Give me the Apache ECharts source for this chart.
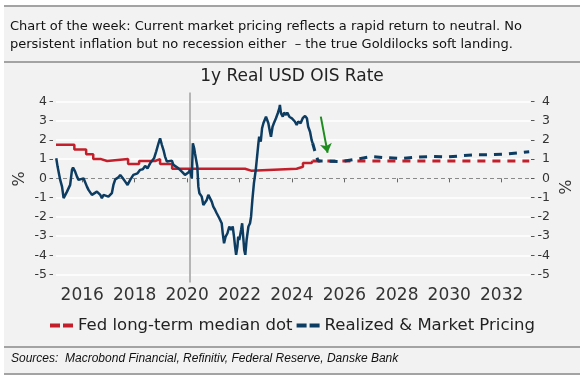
<!DOCTYPE html>
<html>
<head>
<meta charset="utf-8">
<script src="https://cdn.jsdelivr.net/npm/echarts@6/dist/echarts.min.js"></script>
<style>
html,body{margin:0;padding:0;background:#fff;width:584px;height:387px;overflow:hidden;}
#box{position:absolute;left:4px;top:5px;width:576px;height:370px;background:#f2f2f2;}
.hl{position:absolute;left:4px;width:576px;height:2px;background:#a3a3a3;}
#chart{position:absolute;left:0;top:0;width:584px;height:387px;}
</style>
</head>
<body>
<div id="box"></div>
<div class="hl" style="top:5px"></div>
<div class="hl" style="top:61px"></div>
<div class="hl" style="top:346px"></div>
<div class="hl" style="top:373px"></div>
<div id="chart"></div>
<script>
// ---- data (decimal year, % real rate) ----
const headline = "Chart of the week: Current market pricing reflects a rapid return to neutral. No\npersistent inflation but no recession either  \u2013 the true Goldilocks soft landing.";
const chartTitle = "1y Real USD OIS Rate";
const sourceText = "Sources:  Macrobond Financial, Refinitiv, Federal Reserve, Danske Bank";
const fedName = "Fed long-term median dot";
const mktName = "Realized & Market Pricing";

const xTicks = [2016, 2018, 2020, 2022, 2024, 2026, 2028, 2030, 2032];
const yTicks = [-5, -4, -3, -2, -1, 0, 1, 2, 3, 4];
const gridTicks = [-5, -4, -3, -2, -1, 1, 2, 3, 4];

const fedSolidYears = [2015.0, 2015.70, 2016.15, 2016.42, 2016.72, 2016.95, 2017.75, 2018.17, 2018.78, 2018.97, 2019.43, 2022.21, 2022.44, 2024.18, 2024.42, 2024.75, 2024.78];
const fedSolidValues = [1.75, 1.5, 1.25, 1.0, 0.9, 1.0, 0.75, 0.9, 1.0, 0.75, 0.5, 0.4, 0.5, 0.6, 0.8, 0.9, 0.9];
const fedDotYears = [2024.78, 2033.05];
const fedDotValues = [0.9, 0.9];

const realized = [
[2015.01,1.04],[2015.06,0.61],[2015.16,-0.08],[2015.23,-0.43],[2015.29,-1.03],[2015.35,-0.95],[2015.42,-0.69],[2015.48,-0.6],[2015.54,-0.34],[2015.61,0.44],
[2015.65,0.56],[2015.73,0.35],[2015.80,0.09],[2015.86,-0.08],[2015.92,-0.05],[2016.05,0.0],[2016.11,-0.08],[2016.18,-0.43],[2016.24,-0.6],[2016.30,-0.69],
[2016.37,-0.86],[2016.43,-0.95],[2016.56,-0.69],[2016.62,-0.6],[2016.69,-0.86],[2016.75,-1.03],[2016.81,-0.86],[2016.88,-0.95],[2017.00,-0.95],[2017.13,-0.77],
[2017.19,-0.34],[2017.26,-0.05],[2017.38,0.05],[2017.45,0.18],[2017.55,0.0],[2017.64,-0.17],[2017.73,-0.34],[2017.83,-0.08],[2017.95,0.18],[2018.02,0.13],
[2018.11,0.26],[2018.21,0.44],[2018.31,0.47],[2018.40,0.64],[2018.49,0.52],[2018.59,0.78],[2018.66,0.7],[2018.74,1.04],[2018.82,1.39],[2018.91,1.82],
[2018.97,2.08],[2019.04,1.73],[2019.10,1.47],[2019.16,1.13],[2019.23,0.87],[2019.29,0.8],[2019.42,0.92],[2019.48,0.7],[2019.54,0.78],[2019.67,0.52],
[2019.80,0.35],[2019.92,0.18],[2019.99,0.09],[2020.05,0.3],[2020.11,0.44],[2020.18,0.0],[2020.22,1.82],[2020.27,1.56],[2020.30,1.3],[2020.34,1.4],
[2020.39,0.61],[2020.43,-0.43],[2020.47,-0.77],[2020.56,-0.95],[2020.62,-1.38],[2020.69,-1.29],[2020.75,-1.12],[2020.81,-0.86],[2020.88,-0.95],[2020.94,-1.21],
[2021.00,-1.47],[2021.07,-1.64],[2021.13,-1.81],[2021.23,-2.07],[2021.32,-2.33],[2021.36,-2.85],[2021.41,-3.37],[2021.47,-3.02],[2021.54,-2.85],[2021.61,-2.5],
[2021.68,-2.68],[2021.74,-2.5],[2021.79,-3.02],[2021.83,-3.54],[2021.87,-3.97],[2021.92,-3.54],[2021.95,-3.02],[2021.99,-3.2],[2022.06,-2.68],[2022.10,-2.33],
[2022.14,-3.02],[2022.18,-3.72],[2022.22,-3.97],[2022.27,-3.2],[2022.34,-2.5],[2022.40,-2.33],[2022.44,-1.99],[2022.49,-1.12],[2022.55,-0.25],[2022.62,0.44],
[2022.67,1.13],[2022.72,1.82],[2022.75,2.16],[2022.81,1.9],[2022.86,2.6],[2022.91,2.86],[2022.97,2.77],[2023.01,3.2],[2023.06,3.12],[2023.10,2.86],
[2023.16,2.42],[2023.20,2.16],[2023.26,2.68],[2023.31,2.86],[2023.39,3.12],[2023.46,3.38],[2023.52,3.64],[2023.54,3.81],[2023.58,3.38],[2023.65,3.2],
[2023.70,3.41],[2023.77,3.29],[2023.82,3.41],[2023.90,3.2],[2023.99,3.12],[2024.05,3.03],[2024.11,2.95],[2024.18,2.77],[2024.24,2.95],[2024.33,2.86],
[2024.41,3.12],[2024.50,3.24],[2024.57,3.12],[2024.62,2.68],[2024.69,2.42],[2024.75,1.99],[2024.79,1.82]
];

const pricingYears = [2024.79, 2024.88, 2024.94, 2025.0, 2025.26, 2025.87, 2026.48, 2027.04, 2027.6, 2028.2, 2028.8, 2029.36, 2029.94, 2030.53, 2031.1, 2031.68, 2032.27, 2033.05];
const pricingValues = [1.82, 1.39, 1.13, 0.9, 0.9, 0.87, 1.0, 1.13, 1.07, 1.04, 1.11, 1.13, 1.11, 1.18, 1.23, 1.23, 1.27, 1.38];

const covidLine = 2020.11;
const arrowFrom = [2025.10, 3.2];
const arrowTo = [2025.36, 1.33];

// ---- build ----
const zip = (a, b) => a.map((x, i) => [x, b[i]]);
const RED = '#c21f2a', BLUE = '#0c3c61', GREEN = '#1e8c1e';
const FONT = 'DejaVu Sans';
const DASH_ICON = 'path://M0,0H10V4H0Z M13,0H23V4H13Z';

const chart = echarts.init(document.getElementById('chart'), null, {renderer: 'canvas'});
const yBase = {type: 'value', min: -5.4, max: 4.45, axisLine: {show: false}};
chart.setOption({
  animation: false,
  textStyle: {fontFamily: FONT},
  title: [
    {text: headline, left: 10, top: 18, padding: 0,
     textStyle: {fontFamily: FONT, fontSize: 13, lineHeight: 18, fontWeight: 'normal', color: '#111'}},
    {text: chartTitle, left: 'center', top: 67, padding: 0,
     textStyle: {fontFamily: FONT, fontSize: 17, lineHeight: 20, fontWeight: 'normal', color: '#222'}},
    {text: sourceText, left: 11, top: 352, padding: 0,
     textStyle: {fontFamily: 'Liberation Sans', fontSize: 12, fontStyle: 'italic', lineHeight: 14, fontWeight: 'normal', color: '#111'}}
  ],
  legend: {
    data: [{name: fedName, icon: DASH_ICON}, {name: mktName, icon: DASH_ICON}],
    left: 50, top: 317, padding: 0,
    itemWidth: 23, itemHeight: 4, itemGap: 4,
    textStyle: {fontFamily: FONT, fontSize: 16.5, color: '#222'}
  },
  grid: {left: 56, right: 54, top: 92.6, bottom: 104.6, containLabel: false},
  xAxis: {
    type: 'value', min: 2015, max: 2033.08,
    axisLine: {show: false},
    axisTick: {show: true, length: 4, customValues: xTicks, lineStyle: {color: '#666', width: 1}},
    axisLabel: {customValues: xTicks, margin: 5, fontSize: 17, color: '#333', fontFamily: FONT,
      formatter: v => String(Math.round(v))},
    splitLine: {show: false}
  },
  yAxis: [
    Object.assign({}, yBase, {position: 'left', offset: 3,
      axisTick: {show: true, length: 3.5, customValues: yTicks, lineStyle: {color: '#555'}},
      axisLabel: {customValues: yTicks, margin: 6, fontSize: 12.5, color: '#333', fontFamily: FONT},
      splitLine: {show: false}}),
    Object.assign({}, yBase, {position: 'right', offset: 1,
      axisTick: {show: true, length: 3.5, customValues: yTicks, lineStyle: {color: '#555'}},
      axisLabel: {customValues: yTicks, margin: 6, fontSize: 12.5, color: '#333', fontFamily: FONT,
        formatter: v => '{a|' + v + '}',
        rich: {a: {width: 13, align: 'right', fontSize: 12.5, color: '#333', fontFamily: FONT}}},
      splitLine: {show: false}}),
    Object.assign({}, yBase, {position: 'left',
      axisTick: {show: false, customValues: gridTicks},
      axisLabel: {show: false, customValues: gridTicks},
      splitLine: {show: true, lineStyle: {color: '#ffffff', width: 1.5}}})
  ],
  graphic: [
    {type: 'text', x: 20, y: 179, rotation: Math.PI / 2,
     style: {text: '%', fontFamily: FONT, fontSize: 16, fill: '#333', align: 'center', verticalAlign: 'middle'}},
    {type: 'text', x: 563, y: 187, rotation: -Math.PI / 2,
     style: {text: '%', fontFamily: FONT, fontSize: 16, fill: '#333', align: 'center', verticalAlign: 'middle'}}
  ],
  series: [
    {name: 'fedSolid', type: 'line', step: 'end', data: zip(fedSolidYears, fedSolidValues),
     showSymbol: false, symbol: 'none', lineStyle: {color: RED, width: 2.5}, itemStyle: {color: RED},
     z: 3,
     markLine: {silent: true, symbol: 'none', label: {show: false}, z: 1,
       lineStyle: {color: '#8a8a8a', width: 1, type: [4, 3]},
       data: [{yAxis: 0}]}},
    {name: fedName, type: 'line', data: zip(fedDotYears, fedDotValues),
     symbol: 'none', lineStyle: {color: RED, width: 3, type: [8, 7]}, itemStyle: {color: RED}, z: 3},
    {name: 'realized', type: 'line', data: realized,
     symbol: 'none', lineStyle: {color: BLUE, width: 2.5}, itemStyle: {color: BLUE}, z: 4,
     markLine: {silent: true, symbol: 'none', label: {show: false}, z: 1,
       lineStyle: {color: '#b5b5b5', width: 2, type: 'solid'},
       data: [{xAxis: covidLine}]}},
    {name: mktName, type: 'line', data: zip(pricingYears, pricingValues),
     symbol: 'none', lineStyle: {color: BLUE, width: 3, type: [8, 7]}, itemStyle: {color: BLUE}, z: 4,
     markLine: {silent: true, symbol: ['none', 'arrow'], symbolSize: 9, label: {show: false},
       lineStyle: {color: GREEN, width: 2, type: 'solid'},
       data: [[{coord: arrowFrom}, {coord: arrowTo}]]}}
  ]
});
</script>
</body>
</html>
